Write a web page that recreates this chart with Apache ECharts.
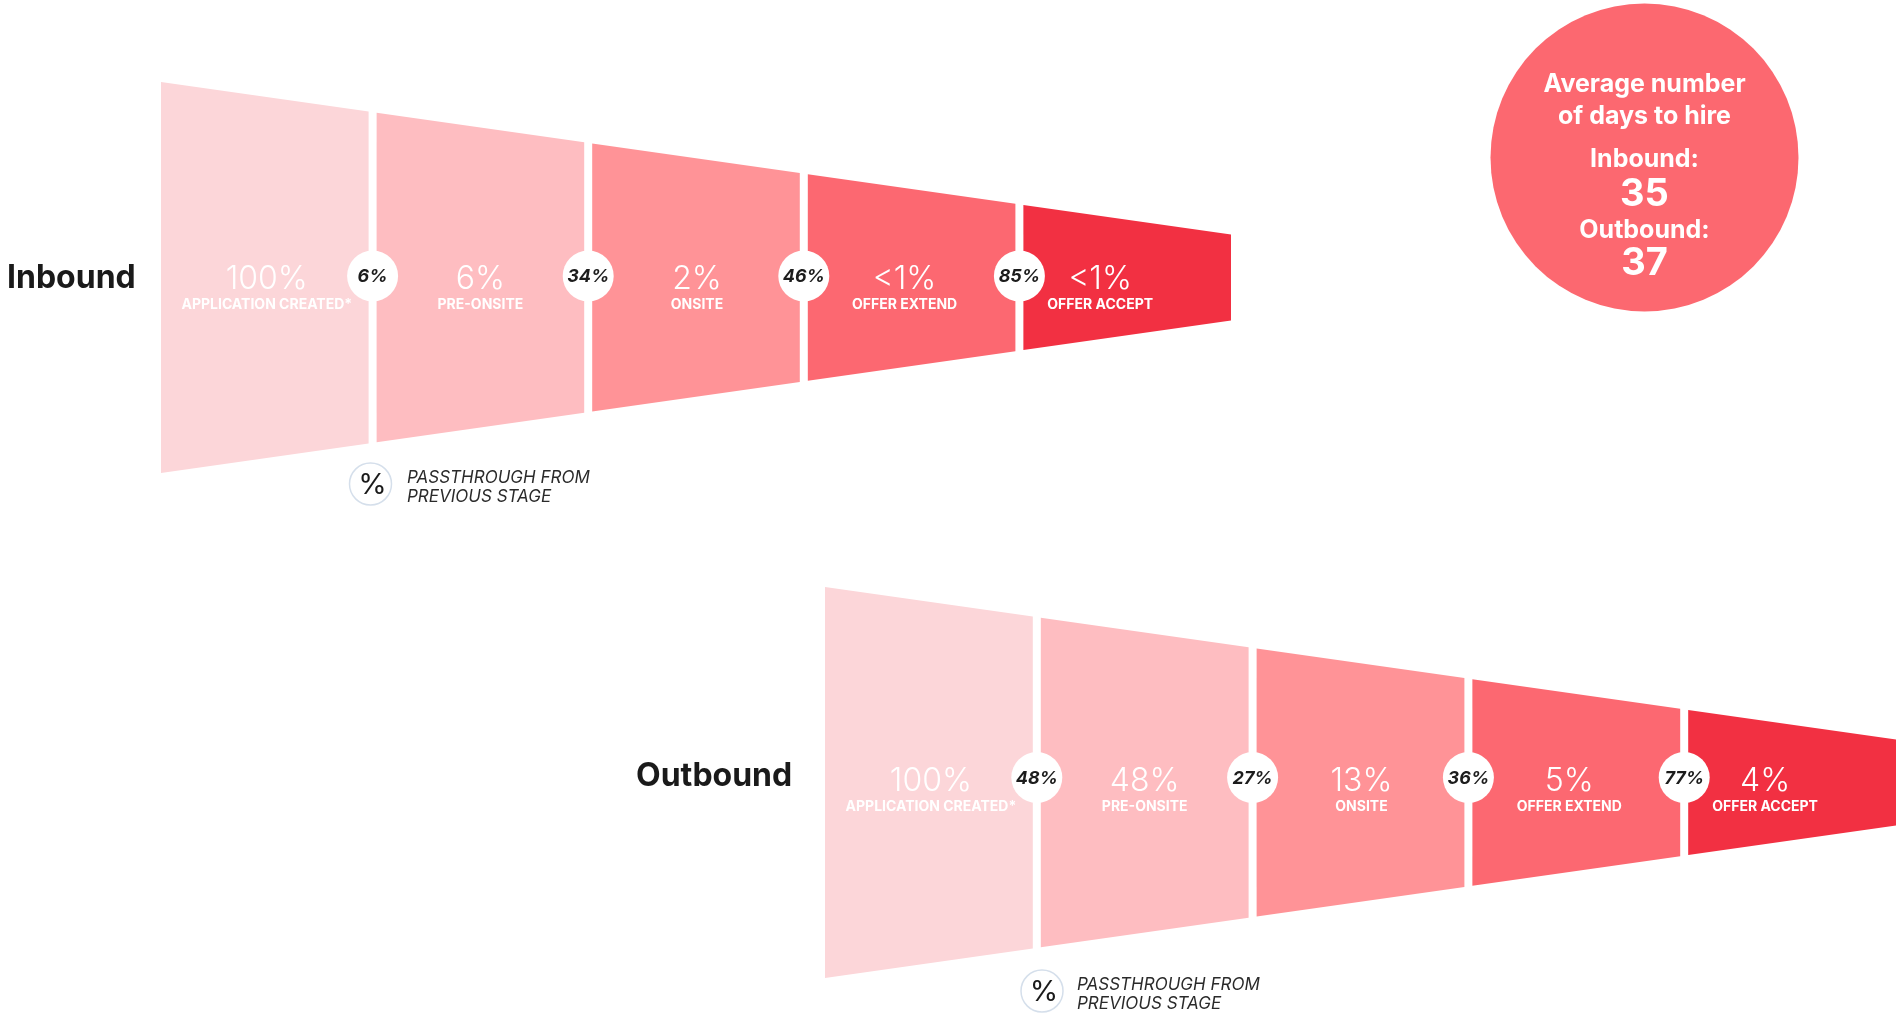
<!DOCTYPE html>
<html>
<head>
<meta charset="utf-8">
<title>Hiring funnel: inbound vs outbound</title>
<script src="https://cdn.jsdelivr.net/npm/echarts@6/dist/echarts.min.js"></script>
<style>
  html, body { margin: 0; padding: 0; background: #ffffff; }
  #chart { width: 1896px; height: 1016px; }
</style>
</head>
<body>
<div id="chart"></div>
<script>
// ---- data ---------------------------------------------------------------
const stages = ['APPLICATION CREATED*', 'PRE-ONSITE', 'ONSITE', 'OFFER EXTEND', 'OFFER ACCEPT'];

// share of applications that reach each stage
const inboundShare  = ['100%', '6%', '2%', '<1%', '<1%'];
const outboundShare = ['100%', '48%', '13%', '5%', '4%'];

// passthrough from the previous stage (between stage k-1 and k)
const inboundPassthrough  = ['6%', '34%', '46%', '85%'];
const outboundPassthrough = ['48%', '27%', '36%', '77%'];

// average number of days to hire
const hireGroups = ['Inbound:', 'Outbound:'];
const hireDays   = [35, 37];

// ---- styling ------------------------------------------------------------
const stageColors = ['#FCD6D9', '#FEBDC1', '#FF9397', '#FC6871', '#F23042'];
const GAP = 8;            // white gutter between stages, px
const TIP = 0.22;         // half-height at the narrow end, relative to the wide end
const labelNudge = [2, 0, 1, -7, -27];
const FONT = 'Inter, "Noto Sans", sans-serif';

const chart = echarts.init(document.getElementById('chart'), null, { renderer: 'canvas' });

function stageSeries(axisIdx, shares, dy) {
  return {
    type: 'custom',
    xAxisIndex: axisIdx,
    yAxisIndex: axisIdx,
    z: 2,
    clip: false,
    encode: { x: 0, y: 1 },
    data: stages.map((s, i) => [i, 0]),
    renderItem(params, api) {
      const i = api.value(0);
      const n = stages.length;
      const L = api.coord([0, 0])[0];
      const R = api.coord([n, 0])[0];
      const x0 = api.coord([i, 0])[0] + i * GAP / n;
      const x1 = api.coord([i + 1, 0])[0] - (n - 1 - i) * GAP / n;
      const half = x => 1 - (1 - TIP) * (x - L) / (R - L);
      const yTop = x => api.coord([0, half(x)])[1];
      const yBot = x => api.coord([0, -half(x)])[1];
      const cy = api.coord([0, 0])[1] + dy;
      const cx = (x0 + x1) / 2 + labelNudge[i];
      return {
        type: 'group',
        children: [
          {
            type: 'polygon',
            shape: { points: [[x0, yTop(x0)], [x1, yTop(x1)], [x1, yBot(x1)], [x0, yBot(x0)]] },
            style: { fill: stageColors[i] }
          },
          {
            type: 'text',
            style: {
              x: cx, y: cy, text: shares[i], fill: '#ffffff',
              font: '300 32px ' + FONT, align: 'center', verticalAlign: 'middle'
            }
          },
          {
            type: 'text',
            style: {
              x: cx, y: cy + 26, text: stages[i], fill: '#ffffff',
              font: 'bold 14px ' + FONT, align: 'center', verticalAlign: 'middle'
            }
          }
        ]
      };
    }
  };
}

function passthroughSeries(axisIdx, rates, dy) {
  return {
    type: 'custom',
    xAxisIndex: axisIdx,
    yAxisIndex: axisIdx,
    z: 3,
    clip: false,
    encode: { x: 0, y: 1 },
    data: rates.map((r, i) => [i + 1, 0]),
    renderItem(params, api) {
      const k = api.value(0);
      const n = stages.length;
      const i = k - 1;
      // centre of the gutter between stage i and stage k
      const right = api.coord([k, 0])[0] - (n - 1 - i) * GAP / n;
      const left = api.coord([k, 0])[0] + k * GAP / n;
      const cx = (left + right) / 2;
      const cy = api.coord([0, 0])[1] + dy;
      return {
        type: 'group',
        children: [
          { type: 'circle', shape: { cx: cx, cy: cy, r: 25.5 }, style: { fill: '#ffffff' } },
          {
            type: 'text',
            style: {
              x: cx, y: cy + 1, text: rates[params.dataIndex], fill: '#1c1c1c',
              font: 'italic bold 18px ' + FONT, align: 'center', verticalAlign: 'middle'
            }
          }
        ]
      };
    }
  };
}

function txt(x, y, text, font, fill, align) {
  return {
    type: 'text', x: x, y: y, z: 10,
    style: {
      text: text, font: font, fill: fill,
      align: align || 'center', verticalAlign: 'middle',
      textAlign: align || 'center', textVerticalAlign: 'middle'
    }
  };
}

function keyGroup(cx, cy, tx) {
  return [
    {
      type: 'circle', z: 10,
      shape: { cx: cx, cy: cy, r: 21 },
      style: { fill: '#ffffff', stroke: '#D5DFEB', lineWidth: 1.5 }
    },
    txt(cx + 2, cy + 1, '%', '400 29px ' + FONT, '#1a1a1a'),
    txt(tx, cy - 6.5, 'PASSTHROUGH FROM', 'italic 400 17px ' + FONT, '#2a2a2a', 'left'),
    txt(tx, cy + 12.5, 'PREVIOUS STAGE', 'italic 400 17px ' + FONT, '#2a2a2a', 'left')
  ];
}

const bubble = { cx: 1644.5, cy: 157.5, r: 154 };

const option = {
  backgroundColor: '#ffffff',
  animation: false,
  grid: [
    { left: 161, top: 82, width: 1070, height: 391 },
    { left: 825, top: 587, width: 1071, height: 391 }
  ],
  xAxis: [
    { type: 'value', gridIndex: 0, min: 0, max: 5, show: false },
    { type: 'value', gridIndex: 1, min: 0, max: 5, show: false }
  ],
  yAxis: [
    { type: 'value', gridIndex: 0, min: -1, max: 1, show: false },
    { type: 'value', gridIndex: 1, min: -1, max: 1, show: false }
  ],
  series: [
    stageSeries(0, inboundShare, 1.5),
    passthroughSeries(0, inboundPassthrough, -1.5),
    stageSeries(1, outboundShare, -1.5),
    passthroughSeries(1, outboundPassthrough, -5)
  ],
  graphic: [
    txt(7, 278, 'Inbound', 'bold 32px ' + FONT, '#1a1a1a', 'left'),
    txt(636, 776, 'Outbound', 'bold 32px ' + FONT, '#1a1a1a', 'left'),
    ...keyGroup(370.5, 484, 407),
    ...keyGroup(1042, 991, 1077),
    {
      type: 'circle', z: 5,
      shape: { cx: bubble.cx, cy: bubble.cy, r: bubble.r },
      style: { fill: '#FC6870' }
    },
    txt(bubble.cx, 84.5, 'Average number', 'bold 25px ' + FONT, '#ffffff'),
    txt(bubble.cx, 116.5, 'of days to hire', 'bold 25px ' + FONT, '#ffffff'),
    txt(bubble.cx, 159, hireGroups[0], 'bold 25px ' + FONT, '#ffffff'),
    txt(bubble.cx, 194.5, String(hireDays[0]), 'bold 38px ' + FONT, '#ffffff'),
    txt(bubble.cx, 230.5, hireGroups[1], 'bold 25px ' + FONT, '#ffffff'),
    txt(bubble.cx, 263.5, String(hireDays[1]), 'bold 38px ' + FONT, '#ffffff')
  ]
};

chart.setOption(option);
</script>
</body>
</html>
